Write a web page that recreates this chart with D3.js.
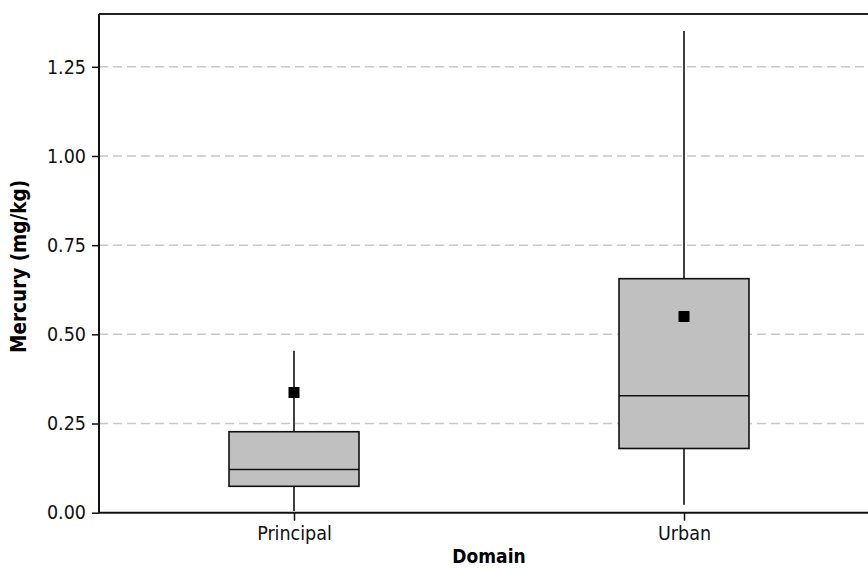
<!DOCTYPE html>
<html><head><meta charset="utf-8">
<script src="https://cdn.jsdelivr.net/npm/d3@7"></script>
<style>
html,body{margin:0;padding:0;background:#fff;}
svg{display:block;}
text{font-family:"DejaVu Sans Condensed","DejaVu Sans",sans-serif;}
</style></head>
<body>
<svg id="chart" width="868" height="569"></svg>
<script>
const categories = ["Principal", "Urban"];
const whiskerLow = [0.005, 0.022];
const q1Values = [0.074, 0.180];
const medianValues = [0.121, 0.328];
const q3Values = [0.227, 0.656];
const whiskerHigh = [0.454, 1.350];
const meanValues = [0.337, 0.550];
const yTicks = [0, 0.25, 0.5, 0.75, 1.0, 1.25];
const yTitle = "Mercury (mg/kg)";
const xTitle = "Domain";

const svg = d3.select("#chart");
const margin = {left: 99, top: 14, bottom: 57};
const W = 868, H = 569;
const plotRight = 879;
const y0 = H - margin.bottom + 0.7;

const x = d3.scalePoint().domain(categories).range([margin.left, plotRight]).padding(0.5);
const y = d3.scaleLinear().domain([0, 1.398]).range([y0, margin.top]);

svg.append("g").selectAll("line").data(yTicks.filter(d => d > 0)).join("line")
  .attr("x1", margin.left).attr("x2", plotRight)
  .attr("y1", d => y(d)).attr("y2", d => y(d))
  .attr("stroke", "#c8c8c8").attr("stroke-width", 1.5).attr("stroke-dasharray", "9,5");

const boxW = 130;
const data = categories.map((c, i) => ({c, lo: whiskerLow[i], q1: q1Values[i], med: medianValues[i], q3: q3Values[i], hi: whiskerHigh[i], mean: meanValues[i]}));

const g = svg.append("g");
g.selectAll(".wl").data(data).join("line")
  .attr("x1", d => x(d.c)).attr("x2", d => x(d.c))
  .attr("y1", d => y(d.lo)).attr("y2", d => y(d.q1))
  .attr("stroke", "#000").attr("stroke-width", 1.5);
g.selectAll(".wh").data(data).join("line")
  .attr("x1", d => x(d.c)).attr("x2", d => x(d.c))
  .attr("y1", d => y(d.q3)).attr("y2", d => y(d.hi))
  .attr("stroke", "#000").attr("stroke-width", 1.5);
g.selectAll("rect.box").data(data).join("rect").attr("class", "box")
  .attr("x", d => x(d.c) - boxW / 2).attr("width", boxW)
  .attr("y", d => y(d.q3)).attr("height", d => y(d.q1) - y(d.q3))
  .attr("fill", "#c0c0c0").attr("stroke", "#111").attr("stroke-width", 1.6);
g.selectAll(".med").data(data).join("line")
  .attr("x1", d => x(d.c) - boxW / 2).attr("x2", d => x(d.c) + boxW / 2)
  .attr("y1", d => y(d.med)).attr("y2", d => y(d.med))
  .attr("stroke", "#111").attr("stroke-width", 1.6);
const ms = 11;
g.selectAll("rect.mean").data(data).join("rect").attr("class", "mean")
  .attr("x", d => x(d.c) - ms / 2).attr("y", d => y(d.mean) - ms / 2)
  .attr("width", ms).attr("height", ms).attr("fill", "#000");

const yAxis = svg.append("g").attr("transform", `translate(${margin.left},0)`)
  .call(d3.axisLeft(y).tickValues(yTicks).tickFormat(d3.format(".2f")).tickSize(7).tickPadding(6));
const xAxis = svg.append("g").attr("transform", `translate(0,${y0})`)
  .call(d3.axisBottom(x).tickSize(8).tickPadding(5));
[yAxis, xAxis].forEach(a => {
  a.select(".domain").attr("stroke", "#111").attr("stroke-width", 2);
  a.selectAll(".tick line").attr("stroke", "#111").attr("stroke-width", 1.5);
  a.selectAll("text").attr("font-family", '"DejaVu Sans Condensed","DejaVu Sans",sans-serif')
    .attr("font-size", 19.5).attr("fill", "#111");
});
yAxis.select(".domain").attr("d", `M0,${y0}V${margin.top}`);
xAxis.select(".domain").attr("d", `M${margin.left},0H${plotRight}`);
svg.append("line").attr("x1", margin.left).attr("x2", plotRight)
  .attr("y1", margin.top).attr("y2", margin.top).attr("stroke", "#222").attr("stroke-width", 2);

svg.append("text").attr("transform", `translate(26,${(margin.top + y0) / 2 + 3}) rotate(-90)`)
  .attr("text-anchor", "middle").attr("font-weight", "bold").attr("font-size", 20.5)
  .attr("fill", "#000").text(yTitle);
svg.append("text").attr("x", (margin.left + plotRight) / 2).attr("y", 563)
  .attr("text-anchor", "middle").attr("font-weight", "bold").attr("font-size", 19)
  .attr("fill", "#000").text(xTitle);
</script>
</body></html>
